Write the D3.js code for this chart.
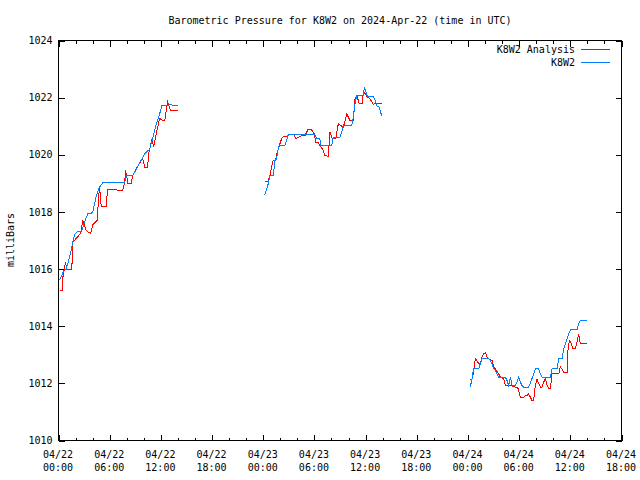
<!DOCTYPE html>
<html>
<head>
<meta charset="utf-8">
<script src="https://cdn.jsdelivr.net/npm/d3@7"></script>
<style>
  html, body { margin: 0; padding: 0; background: #fff; }
  svg { display: block; }
  text { font-family: "DejaVu Sans Mono", "Liberation Mono", monospace; font-size: 10px; fill: #000; }
</style>
</head>
<body>
<svg id="chart" width="640" height="480"></svg>
<script>
// ---- data (hours since 2024-04-22 00:00 UTC; null = gap) ----
const titleText = "Barometric Pressure for K8W2 on 2024-Apr-22 (time in UTC)";
const yLabel = "milliBars";
const seriesNames = ["K8W2 Analysis", "K8W2"];
const seriesColors = ["#ff0000", "#0080ff"];
const yTicks = [1010, 1012, 1014, 1016, 1018, 1020, 1022, 1024];
const xTickHours = [0, 6, 12, 18, 24, 30, 36, 42, 48, 54, 60, 66];
const xMinorHours = d3.range(0, 67, 2);

const analysisHours = [
  0.12, 0.5, 0.53, 0.7, 0.82, 0.94, 1.56, 1.68, 2.58, 2.85, 3.25, 3.76, 4.03, 4.54, 4.64, 4.81, 5.01, 5.2, 5.6, 5.75, 7.52, 7.75, 7.87, 8.14, 8.54, 8.69, 9.28, 9.86, 10.1, 10.45, 10.57, 10.92, 11.16, 11.63, 11.86, 12.21, 12.45, 12.8, 13.15, 13.98,
  null,
  24.19, 24.58, 24.78, 24.98, 25.17, 25.45, 25.57, 25.95, 26.15, 26.34, 26.74, 26.93, 27.63, 27.8, 28.1, 28.5, 28.89, 29.28, 29.68, 29.98, 30.18, 30.45, 30.65, 31.04, 31.24, 31.63, 31.83, 32.03, 32.21, 32.5, 32.8, 33.2, 33.39, 33.59, 33.79, 34.18, 34.56, 34.76, 34.96, 35.27, 35.62, 35.74, 36.14, 36.52, 36.91, 37.11, 37.9,
  null,
  48.27, 48.47, 48.66, 48.86, 49.05, 49.25, 49.45, 49.65, 49.84, 50.04, 50.23, 50.43, 50.82, 51.01, 51.21, 51.6, 51.79, 52.18, 52.38, 52.77, 52.97, 53.56, 53.82, 53.94, 54.14, 54.53, 54.73, 54.92, 55.11, 55.31, 55.51, 55.7, 55.9, 56.09, 56.29, 56.49, 56.69, 56.88, 57.08, 57.27, 57.47, 57.66, 57.86, 58.64, 58.83, 59.03, 59.22, 59.62, 59.69, 59.89, 60.13, 60.33, 60.6, 60.79, 60.98, 61.18, 61.97
];
const analysisMb = [
  1015.25, 1015.25, 1015.77, 1016.0, 1016.26, 1016.0, 1016.0, 1016.94, 1017.24, 1017.7, 1017.35, 1017.24, 1017.56, 1017.7, 1018.2, 1018.9, 1018.2, 1018.2, 1018.2, 1018.8, 1018.75, 1019.04, 1019.45, 1019.0, 1019.0, 1019.27, 1019.6, 1019.87, 1019.57, 1019.57, 1020.04, 1020.5, 1020.3, 1020.97, 1021.27, 1021.2, 1021.2, 1021.84, 1021.55, 1021.55,
  null,
  1019.07, 1019.07, 1019.27, 1019.57, 1019.8, 1019.8, 1020.03, 1020.38, 1020.56, 1020.64, 1020.64, 1020.7, 1020.7, 1020.56, 1020.6, 1020.67, 1020.67, 1020.9, 1020.87, 1020.73, 1020.44, 1020.44, 1020.32, 1020.15, 1019.97, 1019.95, 1020.79, 1020.6, 1020.56, 1020.56, 1021.08, 1021.0, 1020.96, 1021.2, 1021.43, 1021.2, 1021.2, 1021.96, 1022.08, 1021.78, 1021.78, 1022.25, 1022.03, 1021.96, 1021.76, 1021.8, 1021.8,
  null,
  1012.12, 1012.15, 1012.39, 1012.86, 1012.8, 1012.69, 1012.69, 1012.92, 1013.03, 1013.08, 1012.92, 1012.86, 1012.8, 1012.57, 1012.51, 1012.33, 1012.22, 1012.16, 1011.93, 1011.93, 1011.93, 1011.87, 1011.87, 1011.75, 1011.52, 1011.52, 1011.57, 1011.57, 1011.63, 1011.52, 1011.4, 1011.4, 1011.93, 1012.16, 1012.0, 1011.87, 1011.87, 1012.04, 1012.16, 1011.93, 1011.81, 1011.81, 1012.33, 1012.33, 1012.57, 1012.5, 1012.39, 1012.39, 1013.09, 1013.5, 1013.38, 1013.21, 1013.21, 1013.44, 1013.73, 1013.38, 1013.38
];

const stationHours = [
  0.12, 0.7, 0.9, 1.29, 1.68, 1.88, 2.2, 2.67, 3.05, 3.44, 3.76, 4.03, 4.43, 4.81, 5.2, 7.75, 7.95, 8.69, 9.04, 9.31, 10.1, 10.69, 11.07, 11.47, 11.86, 12.13, 12.84, 13.04, 13.98,
  null,
  24.19, 24.58, 24.78, 25.17, 25.37, 25.57, 25.75, 25.87, 26.54, 26.93, 30.07, 30.27, 30.65, 30.7, 32.03, 32.21, 33.0, 33.2, 33.39, 34.37, 34.56, 34.76, 34.96, 35.74, 35.85, 36.05, 36.25, 36.91, 37.11, 37.31, 37.62, 37.74, 37.9,
  null,
  48.27, 48.47, 48.66, 49.25, 49.45, 49.65, 50.43, 50.63, 50.82, 51.01, 51.21, 51.41, 51.6, 52.38, 52.58, 52.77, 52.97, 53.17, 53.56, 53.76, 53.94, 54.14, 54.33, 54.53, 55.11, 55.31, 55.7, 55.9, 56.29, 56.49, 56.69, 57.66, 57.86, 58.45, 58.64, 59.03, 59.22, 59.42, 59.62, 59.81, 60.01, 60.79, 60.98, 61.18, 61.97
];
const stationMb = [
  1015.6, 1016.0, 1016.0, 1016.4, 1016.94, 1017.2, 1017.3, 1017.3, 1017.64, 1017.94, 1017.94, 1018.0, 1018.57, 1018.87, 1019.02, 1019.03, 1019.27, 1019.27, 1019.45, 1019.6, 1020.03, 1020.2, 1020.6, 1021.08, 1021.44, 1021.72, 1021.72, 1021.75, 1021.72,
  null,
  1018.6, 1018.98, 1019.27, 1019.27, 1019.8, 1019.85, 1020.21, 1020.32, 1020.32, 1020.7, 1020.7, 1020.56, 1020.56, 1020.32, 1020.32, 1020.62, 1020.62, 1020.79, 1021.03, 1021.03, 1021.32, 1021.78, 1022.08, 1022.08, 1022.37, 1022.2, 1022.04, 1022.04, 1021.9, 1021.72, 1021.66, 1021.5, 1021.37,
  null,
  1011.87, 1012.15, 1012.51, 1012.51, 1012.69, 1012.86, 1012.86, 1012.8, 1012.69, 1012.51, 1012.45, 1012.33, 1012.22, 1012.22, 1012.1, 1011.93, 1012.22, 1011.93, 1011.93, 1012.04, 1012.22, 1012.04, 1011.93, 1011.87, 1011.87, 1012.0, 1012.33, 1012.51, 1012.51, 1012.33, 1012.22, 1012.22, 1012.51, 1012.51, 1012.86, 1012.86, 1013.21, 1013.38, 1013.56, 1013.73, 1013.88, 1013.88, 1014.08, 1014.2, 1014.2
];

// ---- chart ----
const t0 = Date.UTC(2024, 3, 22, 0, 0);
const hr = 3600 * 1000;
const toDate = h => new Date(t0 + h * hr);

const svg = d3.select("#chart");
const L = 58.5, R = 621.5, T = 40.5, B = 440.5;

const x = d3.scaleUtc().domain([toDate(0), toDate(66)]).range([L, R]);
const y = d3.scaleLinear().domain([1010, 1024]).range([B, T]);

const fmtDay = d3.utcFormat("%m/%d");
const fmtTime = d3.utcFormat("%H:%M");

// minor x ticks (top & bottom)
svg.append("g").attr("transform", `translate(0,${B})`)
  .call(d3.axisBottom(x).tickValues(xMinorHours.map(toDate)).tickSizeInner(-3).tickSizeOuter(0).tickFormat(""))
  .call(g => g.select(".domain").remove());
svg.append("g").attr("transform", `translate(0,${T})`)
  .call(d3.axisTop(x).tickValues(xMinorHours.map(toDate)).tickSizeInner(-3).tickSizeOuter(0).tickFormat(""))
  .call(g => g.select(".domain").remove());

// major x ticks bottom with labels
const xb = svg.append("g").attr("transform", `translate(0,${B})`)
  .call(d3.axisBottom(x).tickValues(xTickHours.map(toDate)).tickSizeInner(-6).tickSizeOuter(0).tickPadding(0).tickFormat(""))
  .call(g => g.select(".domain").remove());
xb.selectAll(".tick").each(function(d) {
  const t = d3.select(this).append("text").attr("text-anchor", "middle").attr("fill", "#000")
    .style("font-family", '"DejaVu Sans Mono", monospace').style("font-size", "10px");
  t.append("tspan").attr("x", -1).attr("y", 17.5).text(fmtDay(d));
  t.append("tspan").attr("x", -1).attr("y", 30.5).text(fmtTime(d));
});
svg.append("g").attr("transform", `translate(0,${T})`)
  .call(d3.axisTop(x).tickValues(xTickHours.map(toDate)).tickSizeInner(-6).tickSizeOuter(0).tickFormat(""))
  .call(g => g.select(".domain").remove());

// y ticks left with labels, right mirrored
svg.append("g").attr("transform", `translate(${L},0)`)
  .call(d3.axisLeft(y).tickValues(yTicks).tickSizeInner(-6).tickSizeOuter(0).tickPadding(6).tickFormat(d3.format("d")))
  .call(g => g.select(".domain").remove())
  .call(g => g.selectAll("text").style("font-family", '"DejaVu Sans Mono", monospace').style("font-size", "10px").attr("fill", "#000"));
svg.append("g").attr("transform", `translate(${R},0)`)
  .call(d3.axisRight(y).tickValues(yTicks).tickSizeInner(-6).tickSizeOuter(0).tickFormat(""))
  .call(g => g.select(".domain").remove());

svg.selectAll(".tick line").attr("stroke", "#000").attr("shape-rendering", "crispEdges");

// border
svg.append("rect").attr("x", L).attr("y", T).attr("width", R - L).attr("height", B - T)
  .attr("fill", "none").attr("stroke", "#000").attr("shape-rendering", "crispEdges");

// series
const line = d3.line()
  .defined(d => d[0] !== null && d[1] !== null)
  .x(d => x(toDate(d[0])))
  .y(d => y(d[1]));

const series = [
  analysisHours.map((h, i) => [h, analysisMb[i]]),
  stationHours.map((h, i) => [h, stationMb[i]])
];

series.forEach((s, i) => {
  svg.append("path").datum(s)
    .attr("d", line)
    .attr("fill", "none")
    .attr("stroke", seriesColors[i])
    .attr("stroke-width", 1)
    .attr("stroke-linejoin", "miter")
    .attr("shape-rendering", "crispEdges");
});

// title
svg.append("text").attr("x", (L + R) / 2).attr("y", 24).attr("text-anchor", "middle").text(titleText);

// y label
svg.append("text").attr("transform", "translate(14,240) rotate(-90)").attr("text-anchor", "middle").text(yLabel);

// legend
seriesNames.forEach((name, i) => {
  const ly = 49.5 + i * 13;
  svg.append("text").attr("x", 575).attr("y", ly + 3.5).attr("text-anchor", "end").text(name);
  svg.append("line").attr("x1", 581).attr("x2", 610).attr("y1", ly).attr("y2", ly)
    .attr("stroke", seriesColors[i]).attr("stroke-width", 1).attr("shape-rendering", "crispEdges");
});
</script>
</body>
</html>
